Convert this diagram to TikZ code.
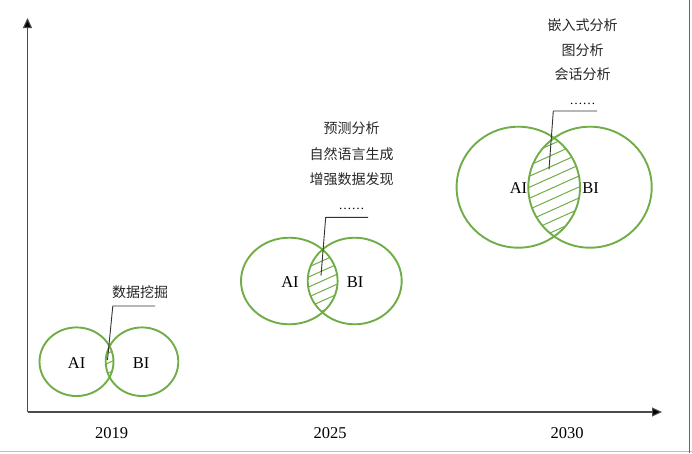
\documentclass[tikz,border=0pt]{standalone}
\usepackage{fontspec}
\setmainfont{Liberation Serif}
\newfontfamily\cjk{Noto Sans CJK SC}
\usetikzlibrary{arrows.meta}
\definecolor{vgreen}{RGB}{112,173,71}
\begin{document}
\begin{tikzpicture}[x=1pt,y=-1pt,
  setA/.style={draw=vgreen,line width=1.9pt},
  hatchline/.style={draw=vgreen,line width=1pt},
  lead/.style={draw=black!80,line width=0.9pt},
  axisline/.style={draw=black!70,line width=1.1pt,-{Triangle[width=9pt,length=10pt,fill=black]}},
  lat/.style={font=\fontsize{16.5}{16.5}\selectfont,anchor=base,inner sep=0pt},
  dotsline/.style={font=\fontsize{13}{13}\selectfont,anchor=base,inner sep=0pt},
  cn/.style={font=\cjk\fontsize{14}{14}\selectfont,anchor=base,inner sep=0pt,text=black!85},
  frameline/.style={line width=1pt}
]
\useasboundingbox (0,0) rectangle (692,453);
% frame edges
\draw[frameline,black!25] (0,451.5) -- (692,451.5);
\draw[frameline,black!60] (689.5,0) -- (689.5,453);
% axes
\coordinate (O) at (27.5,412);
\coordinate (ytip) at (27.5,18);
\coordinate (xtip) at (662,412);
\draw[axisline] (O) -- (ytip);
\draw[axisline] (O) -- (xtip);
% ---------- 2019 ----------
\begin{scope}
  \clip (76.5,361.7) ellipse [x radius=37, y radius=34.3];
  \clip (142,361.7) ellipse [x radius=36.3, y radius=34.3];
  \foreach \k in {-6,...,6}
    \draw[hatchline] (80,361.7+\k*10+14) -- (140,361.7+\k*10-13);
\end{scope}
\draw[setA] (76.5,361.7) ellipse [x radius=37, y radius=34.3];
\draw[setA] (142,361.7) ellipse [x radius=36.3, y radius=34.3];
\node[lat] (ai19) at (76.7,368) {AI};
\node[lat] (bi19) at (141,368) {BI};
\coordinate (l19a) at (107.5,360);
\coordinate (l19b) at (112.8,306);
\coordinate (l19c) at (155,306);
\draw[lead] (l19a) -- (l19b) -- (l19c);
\node[cn] (t19) at (140,297) {数据挖掘};
\node[lat] (y2019) at (111.5,438.5) {2019};
% ---------- 2025 ----------
\begin{scope}
  \clip (289.3,281) ellipse [x radius=48.3, y radius=43.3];
  \clip (354.7,281) ellipse [x radius=47, y radius=43.3];
  \foreach \k in {-8,...,8}
    \draw[hatchline] (262,281+\k*10+27) -- (382,281+\k*10-27);
\end{scope}
\draw[setA] (289.3,281) ellipse [x radius=48.3, y radius=43.3];
\draw[setA] (354.7,281) ellipse [x radius=47, y radius=43.3];
\node[lat] (ai25) at (290,287.3) {AI};
\node[lat] (bi25) at (355,287.3) {BI};
\coordinate (l25a) at (321,275.7);
\coordinate (l25b) at (325.7,217.3);
\coordinate (l25c) at (368,217.3);
\draw[lead] (l25a) -- (l25b) -- (l25c);
\node[cn] (t25a) at (351.7,133.5) {预测分析};
\node[cn] (t25b) at (351.7,159) {自然语言生成};
\node[cn] (t25c) at (351.7,184.5) {增强数据发现};
\node[dotsline] (t25d) at (351.7,209) {……};
\node[lat] (y2025) at (330,438.5) {2025};
% ---------- 2030 ----------
\begin{scope}
  \clip (518.3,187.2) ellipse [x radius=61.7, y radius=60.5];
  \clip (590,187.2) ellipse [x radius=61.7, y radius=60.5];
  \foreach \k in {-12,...,12}
    \draw[hatchline] (494,187.2+\k*11+27) -- (614,187.2+\k*11-27);
\end{scope}
\draw[setA] (518.3,187.2) ellipse [x radius=61.7, y radius=60.5];
\draw[setA] (590,187.2) ellipse [x radius=61.7, y radius=60.5];
\node[lat] (ai30) at (518.5,193.3) {AI};
\node[lat] (bi30) at (590.5,193.3) {BI};
\coordinate (l30a) at (549,169.3);
\coordinate (l30b) at (553.3,111);
\coordinate (l30c) at (597,111);
\draw[lead] (l30a) -- (l30b) -- (l30c);
\node[cn] (t30a) at (582.5,30.3) {嵌入式分析};
\node[cn] (t30b) at (582.5,55.3) {图分析};
\node[cn] (t30c) at (582.5,79.5) {会话分析};
\node[dotsline] (t30d) at (582.5,104.5) {……};
\node[lat] (y2030) at (567,438.5) {2030};
\end{tikzpicture}
\end{document}
